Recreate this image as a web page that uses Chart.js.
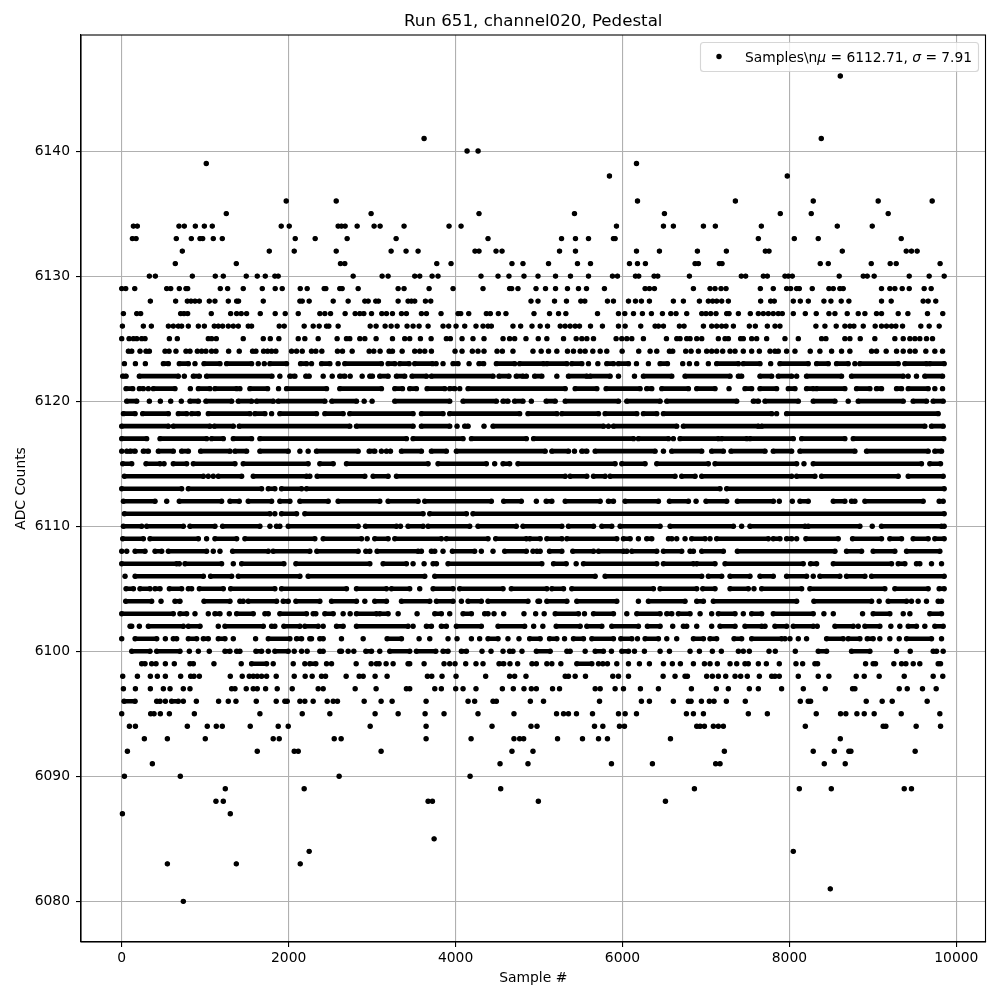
<!DOCTYPE html>
<html>
<head>
<meta charset="utf-8">
<style>html,body{margin:0;padding:0;background:#fff}canvas{display:block}</style>
<script src="https://cdn.jsdelivr.net/npm/chart.js@4"></script>
</head>
<body>
<canvas id="c" width="1000" height="1000"></canvas>
<script>
// One list per ADC level. A number is one sample; [a,b] is a
// saturated run of touching dots from sample a to sample b, where single samples cannot be told apart.
const row6146=[8610];
const row6141=[3623,8382];
const row6140=[4138,4270];
const row6139=[1013,6168];
const row6138=[5844,7975];
const row6136=[1971,2570,6180,7353,8286,9064,9711];
const row6135=[1253,2988,4281,5425,6503,7891,8262,9184];
const row6134=[140,187,686,750,882,990,1085,1911,2007,2593,2633,2677,2821,3024,3096,3383,3922,4066,5928,6491,6610,6970,7113,7664,8574,8993];
const row6133=[128,172,654,834,938,970,1097,1205,2079,2318,2701,3288,4389,5270,5437,5593,5892,5912,7628,8059,8346,9340];
const row6132=[726,1768,2067,2570,3228,3407,3551,4233,4281,4485,4557,5246,5437,6168,6443,6898,7245,7712,7756,8634,9400,9463,9531];
const row6131=[642,1373,2621,2673,3775,3946,4676,4808,5114,5461,5617,6084,6180,6275,6870,6910,7161,7193,8370,8466,8981,9208,9280,9806];
const row6130=[331,403,846,1121,1217,1492,1624,1720,1835,1875,2773,3120,3192,3511,3571,3719,3790,4305,4509,4640,4820,4988,5198,5377,5593,5880,5940,6156,6195,6379,6423,6802,7424,7476,7688,7736,7947,7987,8035,8597,8885,8933,9016,9436,9675,9855];
const row6129=[0,48,156,539,587,690,770,790,1181,1269,1456,1684,1839,1923,2139,2222,2426,2446,2613,2641,2833,3312,3383,3683,3970,4329,4648,4672,4748,4964,5078,5198,5341,5473,5569,5784,6271,6323,6383,6850,7049,7109,7181,7241,7652,7807,7967,8015,8087,8119,8274,8474,8526,8605,8645,9104,9204,9264,9352,9436,9615,9699];
const row6128=[343,646,786,830,878,930,1049,1117,1277,1377,1400,1696,2135,2163,2246,2534,2713,2913,2953,3044,3076,3312,3431,3471,3511,3639,3703,4904,4988,5186,5329,5501,5549,5820,5892,6072,6156,6227,6323,6610,6730,6922,7029,7081,7129,7189,7269,7656,7776,7819,8047,8131,8227,8414,8498,8621,8713,9104,9220,9603,9663,9754];
const row6127=[20,180,227,706,746,790,1073,1305,1377,1432,1496,1660,1839,1959,2115,2374,2434,2502,2677,2797,2853,2901,2993,3116,3172,3244,3352,3411,3591,3651,3826,4030,4062,4158,4369,4417,4513,4604,4940,5126,5234,5322,5701,5952,6028,6132,6239,6347,6479,6579,6642,6770,6950,7001,7057,7121,7249,7277,7389,7532,7628,7688,7748,7807,7867,7915,8047,8191,8322,8474,8546,8693,8825,8905,9044,9104,9304,9420,9655,9838];
const row6126=[8,259,355,559,618,678,718,798,918,990,1109,1157,1209,1277,1337,1397,1516,1556,1887,1947,2186,2294,2366,2454,2482,2593,2977,3048,3156,3228,3300,3419,3491,3563,3671,3850,3918,4006,4110,4245,4329,4389,4429,4688,4780,4916,5014,5102,5254,5313,5373,5433,5485,5617,5760,5952,6032,6219,6391,6431,6491,6682,6738,6970,7069,7129,7189,7241,7329,7520,7592,7736,7828,7887,8318,8426,8561,8665,8725,8773,8885,9028,9104,9164,9224,9276,9356,9575,9675,9795];
const row6125=[0,88,140,180,239,279,571,666,1037,1077,1133,1456,1696,1780,1883,2115,2194,2354,2581,2693,2733,2853,2913,3048,3244,3391,3451,3579,3707,3890,3938,4078,4209,4341,4569,4648,4708,4844,4991,5094,5294,5445,5513,5573,5653,5924,5992,6052,6112,6251,6527,6651,6690,6770,6810,6890,6950,7149,7229,7269,7416,7448,7548,7608,7728,7947,8107,8386,8438,8665,8725,8849,9024,9264,9364,9444,9504,9563,9643,9715];
const row6124=[80,120,219,291,331,519,567,650,770,818,906,958,1009,1077,1129,1281,1408,1568,1608,1700,1748,1796,1847,2035,2095,2163,2274,2326,2398,2585,2645,2761,2965,3020,3096,3204,3244,3360,3511,3571,3631,3711,3994,4078,4201,4269,4341,4497,4561,4688,4928,5026,5114,5214,5341,5413,5493,5553,5645,5733,5812,5996,6195,6331,6411,6563,6602,6758,6822,6910,7009,7069,7129,7201,7289,7349,7448,7548,7640,7768,7827,7867,7967,8067,8250,8366,8506,8625,8725,8985,9044,9160,9284,9364,9444,9507,9635,9743,9835];
const row6123=[32,164,283,[499,559],[690,798],878,[986,1177],[1257,1556],1636,1708,[1776,1975],[2143,2214],2274,[2394,2494],2593,[2673,3112],[3192,3272],[3332,3443],[3511,3723],3767,3850,[3970,4030],4162,[4281,4337],[4489,4708],[4768,5054],[5094,5333],[5393,5513],5593,5705,[5812,5892],[5952,6072],6168,6311,[6451,6539],6722,6802,6890,7029,[7129,7389],[7448,7648],7776,[7887,8226],[8326,8466],[8565,8705],8785,[8845,9304],[9384,9643],[9683,9855]];
const row6122=[[12,52],[211,678],750,[858,930],[1017,1800],1895,[2015,2075],[2206,2246],2414,2522,[2613,2673],2737,2881,[2973,3004],[3092,3192],[3292,3391],[3479,3651],[3711,4449],[4521,4640],[4728,4808],4848,[4948,5034],5214,[5353,5573],[5613,5852],5952,6144,[6251,6591],[6750,7289],[7389,7428],[7648,7788],[7867,8027],8087,[8206,8625],[8745,9364],9423,9523,[9623,9835]];
const row6121=[[52,132],[211,259],319,[379,638],822,[918,1057],[1117,1377],1416,[1536,1748],1879,[1975,2454],[2613,3112],[3272,3364],[3451,3531],[3659,3870],[3930,3990],4050,[4150,5314],[5433,5693],[5804,6211],[6291,6351],[6471,6790],[6890,7109],7277,[7468,7548],[7648,7847],[7987,8067],[8206,8286],[8326,8665],[8805,8965],[9044,9104],[9284,9344],[9424,9663],9743,9835];
const row6120=[[60,180],331,463,587,714,[818,918],[1009,1317],[1397,1556],[1616,1816],[1875,2434],[2518,2813],2905,3000,[3272,3930],[4090,4489],[4569,4628],[4708,4808],4908,[5086,5194],[5314,5952],[6052,6451],[6531,7369],[7568,7628],[7708,8107],[8286,8546],8705,[8825,9364],[9483,9643],[9723,9843]];
const row6119=[[20,160],[251,559],[678,778],[838,918],[1037,1536],[1596,1716],1796,[1895,2334],[2434,2653],[2733,3491],[3591,3850],[3930,4768],[4868,5214],[5274,5713],[5792,6172],[6251,6411],[6491,7788],7847,[7967,9783]];
const row6118=[[0,559],[618,1057],[1109,1337],[1408,2733],[2813,3491],[3591,3930],4018,[4110,4150],4341,[4449,5773],5832,[5892,6650],[6730,7628],[7668,9623],[9703,9843]];
const row6117=[[0,299],[459,1017],[1077,1217],[1337,1556],[1656,3411],[3491,4090],[4190,4848],[4935,6132],[6191,6551],6610,[6690,7149],[7189,7489],[7528,8047],[8147,8665],[8765,9850]];
const row6116=[0,60,[100,160],[259,319],[439,618],[718,798],[946,1297],[1357,1496],[1656,1995],2135,2234,[2334,2833],[2965,3032],3112,3172,3220,[3352,3591],[3711,3890],[4010,5074],[5154,5353],5425,[5513,5573],[5673,6391],6491,[6590,6950],[7069,7209],[7301,7708],[7807,8027],[8127,8785],[8925,9663],[9743,9823]];
const row6115=[[12,120],[291,459],507,[618,778],[858,1357],[1456,2234],[2374,2534],[2693,3671],[3790,4369],4469,[4569,4648],[4748,5912],[5992,6271],[6411,7029],[7109,8087],8175,[8286,9583],[9683,9811]];
const row6114=[[32,978],1037,1097,[1157,1437],[1576,2214],2254,[2342,2913],[3012,3192],[3292,5314],[5373,5573],[5653,5792],[5852,6630],[6710,6870],[6950,8027],[8087,8306],[8386,9304],[9424,9843]];
const row6113=[[0,718],[798,1676],[1756,1835],[1915,2155],[2214,7169],[7249,9855]];
const row6112=[[20,399],539,[690,1197],[1297,1408],[1516,1796],[1895,2015],[2135,2474],[2593,3092],[3192,3551],[3631,4429],[4577,4788],4968,[5086,5154],[5314,5733],[5832,5892],[6032,6431],[6563,6790],6882,[7001,7249],[7377,7808],7879,8035,[8127,8226],[8526,8665],[8745,8785],[8905,9603],[9795,9843]];
const row6111=[[32,1776],1835,[1915,2095],[2194,3611],[3691,4130],[4209,9855]];
const row6110=[[20,239],[299,738],[818,1117],[1209,1656],1776,[1855,1895],[1995,2833],[2921,3292],3340,[3431,3611],[3671,4170],[4269,4728],[4808,5274],[5353,5653],[5753,5872],[5972,6451],[6571,7329],7428,[7528,8187],[8226,8845],8993,[9104,9823],9855];
const row6109=[[12,259],[339,918],1017,[1117,1377],[1476,2314],[2414,2873],2941,[3032,3192],[3272,3830],[3890,4389],[4481,4848],[4890,5014],[5094,5274],[5334,5932],[6012,6092],6191,[6291,6351],[6551,6591],6650,6750,[6830,6990],7049,[7129,7748],[7807,7887],[7967,8027],8087,[8198,8585],[8757,9104],[9204,9344],[9483,9663],[9743,9855]];
const row6108=[0,60,[160,279],[399,479],[559,1017],1097,1177,[1329,1756],[1815,2254],[2338,2833],[2925,2973],[3060,3551],3591,[3711,3751],3850,[3962,4229],4309,4449,[4589,4848],4928,[4975,5014],[5126,5274],[5405,5653],[5713,6012],6052,[6112,6411],[6491,6710],[6810,6850],[6950,7209],[7377,8546],[8685,8865],[9004,9264],[9404,9803]];
const row6107=[[0,658],690,[758,1197],1337,[1437,1943],[2087,2973],[3132,3411],3491,3623,[3731,3771],[3910,5034],[5174,5326],5445,[5533,6411],[6491,6850],[6890,7109],[7229,8166],[8254,8326],[8526,9224],[9304,9384],[9523,9563],9703,9823];
const row6106=[40,[160,978],[1065,1317],[1397,2135],[2234,3631],[3751,5673],[5792,6950],[7029,7189],[7289,7528],[7648,7807],[7967,8206],8286,[8366,8605],[8685,8905],[8985,9855]];
const row6105=[[52,140],[219,339],[399,459],[571,718],[798,838],[930,1217],[1305,1835],[1915,2693],[2813,3172],[3232,3451],3571,[3731,3970],[4050,4569],[4668,5094],[5154,5294],[5393,6371],[6451,6890],[6962,7109],[7289,7508],7576,[7668,8147],[8246,9144],[9264,9663],[9795,9855]];
const row6104=[[48,359],471,[638,698],[986,1297],[1416,1456],[1516,1856],[1935,1995],[2087,2374],[2514,2813],2913,[3032,3172],[3352,3691],[3771,3970],4070,[4150,4309],[4389,4868],[4988,5006],[5094,5334],[5453,5932],6191,[6311,6750],[6890,6970],[7089,8087],[8294,8985],9076,[9184,9404],9463,9543,9643,[9783,9823]];
const row6103=[[0,618],[698,778],878,1037,[1117,1177],1289,[1377,1576],[1716,1756],[1895,2214],[2294,2326],[2434,2534],2653,2737,[2813,3052],[3092,3192],3312,3539,[3751,3830],3930,[4090,4190],[4349,4389],4461,4577,4820,4960,5062,[5194,5473],5545,[5653,5892],6052,[6172,6451],[6531,6591],[6670,6810],6930,7069,[7149,7349],7448,[7548,7668],[7807,8286],8414,8526,8877,[9004,9204],9364,9444,[9683,9823]];
const row6102=[[100,120],211,[319,738],[798,938],1157,[1237,1696],[1796,1835],[1943,2135],[2194,2354],2414,[2574,2653],[2813,3431],3491,[3651,3711],[3830,3890],[4010,4309],[4509,4828],4936,5046,[5206,5493],[5573,5753],[5872,6191],[6299,6451],6602,[6730,6770],6890,7069,[7169,7349],[7468,7668],7708,[7827,7967],[8047,8286],8334,[8546,8765],8825,[8905,9084],9216,9324,[9424,9523],9623,[9743,9843]];
const row6101=[0,[160,419],523,[618,658],[798,898],[978,1037],[1157,1237],1337,1604,[1756,2015],[2095,2155],[2254,2274],[2374,2414],2633,2893,[3180,3352],3563,3691,3910,4018,4190,4289,[4389,4509],4628,4760,[4888,5014],[5126,5214],5306,[5413,5533],[5633,5892],[5980,6112],6180,[6271,6431],6531,6650,[6850,6970],[7049,7129],[7337,7428],[7548,7907],7947,8007,8107,8206,[8446,8645],[8705,8845],[8933,9004],9084,9204,9316,[9404,9703],9823];
const row6100=[[120,339],[419,698],810,918,1049,[1237,1297],[1377,1416],[1608,1676],1756,[1835,1995],2067,2155,2222,[2374,2414],[2613,2633],2713,2781,[2925,2993],3092,[3212,3451],[3531,3763],[3850,3910],[4070,4130],4317,4425,4569,[4648,4688],4796,[4968,5134],[5334,5373],5553,[5673,5772],5868,[5992,6072],6144,6263,6451,6563,6810,6922,7077,7185,7389,7448,7520,7756,7831,8071,[8346,8446],[8745,8965],9284,9448,[9723,9763],9843];
const row6099=[[239,279],359,411,523,630,[818,858],1105,1432,[1556,1736],1815,2055,2194,[2254,2326],2454,2514,2809,2989,3052,3084,3168,3252,[3431,3451],3623,3862,3930,3994,4122,4245,4329,[4521,4577],4652,4744,4916,4968,5094,5154,5262,[5453,5633],5713,5765,5820,5932,6072,6203,6323,6491,6598,6694,6850,6982,7049,7137,7289,7369,7468,7508,7628,7724,7879,8079,8159,8306,8338,8913,9004,9032,9252,9344,9396,9484,9563,9783,9811];
const row6098=[12,188,343,427,523,706,826,866,930,1301,1444,1528,1576,1624,1676,1736,1851,2067,2198,2282,2394,2442,2689,2845,2893,3036,3180,3663,3715,3838,4006,4361,4648,4708,4844,5314,5353,5433,5557,5884,5952,6072,6487,6630,6750,6778,7009,7077,7149,7237,7349,7416,7496,7640,7788,7827,7879,8107,8346,8474,8801,8897,9076,9376,9723,9838];
const row6097=[20,164,343,499,579,738,818,1317,1357,1492,1576,1624,1724,1863,2043,2354,2414,2797,3048,3411,3451,3751,3830,4002,4090,4245,4561,4692,4820,4908,4968,5162,5246,5673,5733,5912,6012,6215,6431,6826,7125,7269,7520,7628,7907,8167,8430,8757,8785,9316,9412,9595,9759];
const row6096=[[28,160],[419,459],523,[598,678],738,894,1161,1277,1369,1612,1851,1955,1983,2135,2194,2294,2462,2534,2585,2905,3108,3240,3647,4150,4229,4449,4489,4896,5054,5725,6227,6323,6610,6790,6822,6946,7041,7097,7245,7472,8131,8226,8254,8921,9112,9232,9651];
const row6095=[0,347,387,463,571,870,1656,2163,2494,3036,3312,3635,3862,4269,4700,5210,5294,5353,5449,5641,5952,6032,6168,6766,6850,6970,7508,7736,8322,8613,8677,8809,8897,9016,9340,9803];
const row6094=[92,164,786,1025,1133,1205,1540,1875,1995,2977,3647,4437,4904,4976,5665,5765,5964,6024,6890,6930,6982,7089,7149,7209,8191,9124,9156,9519,9811];
const row6093=[271,547,1001,1815,1887,2546,2629,3647,4186,4700,4768,4816,5222,5521,5713,5820,6575,8610];
const row6092=[68,1624,2067,2115,3108,4676,4928,7221,8286,8538,8713,8737,9507];
const row6091=[367,4533,4868,5868,6359,7117,7169,8418,8669];
const row6090=[32,702,2605,4174];
const row6089=[1241,2186,4541,6862,8119,8502,9376,9463];
const row6088=[1129,1217,3671,3723,4992,6515];
const row6087=[8,1301];
const row6085=[3743];
const row6084=[2246,8047];
const row6083=[547,1373,2139];
const row6081=[8490];
const row6080=[738];

const levels=[6146,6141,6140,6139,6138,6136,6135,6134,6133,6132,6131,6130,6129,6128,6127,6126,6125,6124,6123,6122,6121,6120,6119,6118,6117,6116,6115,6114,6113,6112,6111,6110,6109,6108,6107,6106,6105,6104,6103,6102,6101,6100,6099,6098,6097,6096,6095,6094,6093,6092,6091,6090,6089,6088,6087,6085,6084,6083,6081,6080];
const rows=[row6146,row6141,row6140,row6139,row6138,row6136,row6135,row6134,row6133,row6132,row6131,row6130,row6129,row6128,row6127,row6126,row6125,row6124,row6123,row6122,row6121,row6120,row6119,row6118,row6117,row6116,row6115,row6114,row6113,row6112,row6111,row6110,row6109,row6108,row6107,row6106,row6105,row6104,row6103,row6102,row6101,row6100,row6099,row6098,row6097,row6096,row6095,row6094,row6093,row6092,row6091,row6090,row6089,row6088,row6087,row6085,row6084,row6083,row6081,row6080];
const xTicks=[0,2000,4000,6000,8000,10000];
const yTicks=[6080,6090,6100,6110,6120,6130,6140];
const titleText="Run 651, channel020, Pedestal";
const xLabel="Sample #";
const yLabel="ADC Counts";
const legendParts=[["Samples\\n",false],["μ",true],[" = 6112.71, ",false],["σ",true],[" = 7.91",false]];

const FONT='"DejaVu Sans"';
const points=[];
rows.forEach((row,i)=>{
  const y=levels[i];
  row.forEach(item=>{
    if(Array.isArray(item)){points.push({x:item[0],y},{x:item[1],y},{x:item[1],y:null});}
    else{points.push({x:item,y},{x:item,y:null});}
  });
});

const framePlugin={
  id:'frame',
  afterDatasetsDraw(chart){
    const {ctx,chartArea:a}=chart;
    ctx.save();
    ctx.strokeStyle='#000';ctx.lineWidth=1.1;
    ctx.strokeRect(a.left,a.top,a.right-a.left,a.bottom-a.top);
    // legend box
    ctx.fillStyle='rgba(255,255,255,0.8)';
    ctx.strokeStyle='rgba(204,204,204,0.8)';
    ctx.lineWidth=1.1;
    ctx.beginPath();ctx.roundRect(700.5,42.5,278,29,3);ctx.fill();ctx.stroke();
    ctx.fillStyle='#000';
    ctx.beginPath();ctx.arc(719,56.5,2.7,0,Math.PI*2);ctx.fill();
    let x=745;
    ctx.textBaseline='alphabetic';ctx.textAlign='left';
    legendParts.forEach(([t,it])=>{
      ctx.font=(it?'italic ':'')+'13.8px '+FONT;
      ctx.fillText(t,x,61.5);
      x+=ctx.measureText(t).width;
    });
    ctx.restore();
  }
};

new Chart(document.getElementById('c'),{
  type:'scatter',
  data:{datasets:[{
    label:legendParts.map(p=>p[0]).join(''),
    data:points,
    showLine:true,
    spanGaps:false,
    borderColor:'#000',
    borderWidth:4.6,
    borderCapStyle:'round',
    borderJoinStyle:'round',
    backgroundColor:'#000',
    pointRadius:2.7,
    pointBorderWidth:0,
    pointHoverRadius:2.7,
    tension:0
  }]},
  options:{
    responsive:false,
    animation:false,
    devicePixelRatio:1,
    events:[],
    layout:{padding:{left:0,right:14.5,top:0,bottom:0}},
    plugins:{
      legend:{display:false},
      tooltip:{enabled:false},
      title:{display:true,fullSize:false,text:titleText,color:'#000',align:'center',
        font:{family:FONT,size:16.67,weight:'normal',lineHeight:1.2},
        padding:{top:12,bottom:3}}
    },
    scales:{
      x:{type:'linear',min:-488,max:10350,
        afterBuildTicks(s){s.ticks=xTicks.map(v=>({value:v}));},
        afterFit(s){s.height=58;},
        grid:{color:'#b0b0b0',lineWidth:1.1,tickColor:'#000',tickLength:5,tickWidth:1.1},
        border:{color:'#000',width:1.1},
        ticks:{color:'#000',maxRotation:0,autoSkip:false,padding:3,font:{family:FONT,size:13.89},callback:v=>String(v)},
        title:{display:true,text:xLabel,color:'#000',font:{family:FONT,size:13.89},padding:{top:4,bottom:13}}
      },
      y:{type:'linear',min:6076.75,max:6149.28,
        afterBuildTicks(s){s.ticks=yTicks.map(v=>({value:v}));},
        afterFit(s){s.width=81;},
        grid:{color:'#b0b0b0',lineWidth:1.1,tickColor:'#000',tickLength:5,tickWidth:1.1},
        border:{color:'#000',width:1.1},
        ticks:{color:'#000',autoSkip:false,padding:6,font:{family:FONT,size:13.89},callback:v=>String(v)},
        title:{display:true,text:yLabel,color:'#000',font:{family:FONT,size:13.89},padding:{top:13,bottom:0}}
      }
    }
  },
  plugins:[framePlugin]
});
</script>
</body>
</html>
